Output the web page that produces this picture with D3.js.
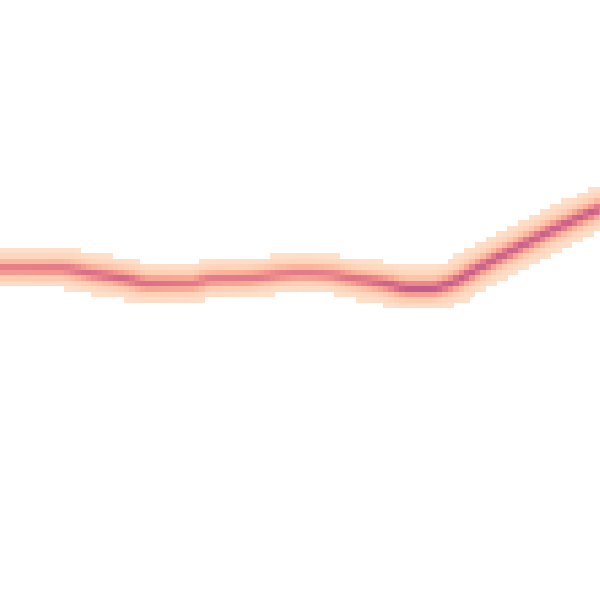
<!DOCTYPE html>
<html><head><meta charset="utf-8">
<script src="https://cdn.jsdelivr.net/npm/d3@7"></script>
<style>html,body{margin:0;padding:0;background:#fff;overflow:hidden}</style>
</head><body>
<svg id="chart" width="600" height="600"></svg>
<script>
// Centerline of the dense band (time index 0-100, value 0-100)
const times = [0, 5, 10, 15, 20.8, 25, 31.7, 35, 41.7, 46.7, 50, 55, 58.3, 64.2, 68.3, 71.7, 75, 80, 86.7, 93.3, 100];
const values = [55.3, 55.3, 55.3, 54.5, 53.6, 52.8, 52.8, 53.5, 53.7, 54.3, 54.5, 54.3, 53.7, 52.8, 52, 52, 52.8, 55.5, 59, 62.3, 65.3];
// Peak density along the band (0-1)
const peaks = [0.76, 0.76, 0.78, 0.85, 0.88, 0.82, 0.76, 0.76, 0.76, 0.76, 0.76, 0.76, 0.8, 0.92, 1, 1, 0.97, 0.95, 0.95, 0.95, 0.95];
const colorStops = ["#fee9d8", "#fdd3b8", "#fbb39b", "#f1918c", "#dd7489", "#c05a8b"];

const W = 600, H = 600, cellW = 5.4, cellH = 5.5, offX = 5 - cellW;
const cols = Math.ceil((W - offX) / cellW), rows = Math.ceil(H / cellH);
const x = d3.scaleLinear().domain([0, 100]).range([0, W]);
const y = d3.scaleLinear().domain([0, 100]).range([H, 0]);
const peakAt = d3.scaleLinear().domain(times).range(peaks).clamp(true);
const color = d3.scaleLinear().domain(d3.range(colorStops.length).map(i => i / (colorStops.length - 1))).range(colorStops).interpolate(d3.interpolateRgb).clamp(true);

const svg = d3.select("#chart");
const pts = times.map((t, i) => [t, values[i]]);
const line = d3.line().x(d => x(d[0])).y(d => y(d[1])).curve(d3.curveMonotoneX);
const guide = svg.append("path").attr("d", line(pts)).attr("fill", "none").attr("stroke", "none");
const node = guide.node(), len = node.getTotalLength();
const samples = [];
for (let s = 0; s <= len; s += 1) {
  const p = node.getPointAtLength(s);
  samples.push([p.x, p.y, peakAt(x.invert(p.x))]);
}
guide.remove();

const w = 6.6;
const cells = [];
for (let r = 0; r < rows; r++) {
  for (let c = 0; c < cols; c++) {
    const cx = offX + (c + 0.5) * cellW, cy = (r + 0.5) * cellH;
    let best = 0;
    for (const [px, py, pk] of samples) {
      if (Math.abs(px - cx) > 40) continue;
      const d2 = (px - cx) ** 2 + (py - cy) ** 2;
      const v = pk / (1 + d2 / (w * w));
      if (v > best) best = v;
    }
    if (best >= 0.08) cells.push({c, r, v: best});
  }
}

svg.append("g").selectAll("rect").data(cells).join("rect")
  .attr("x", d => offX + d.c * cellW).attr("y", d => d.r * cellH)
  .attr("width", cellW + 0.3).attr("height", cellH + 0.3)
  .attr("fill", d => color(d.v))
  .attr("shape-rendering", "crispEdges");
</script>
</body></html>
